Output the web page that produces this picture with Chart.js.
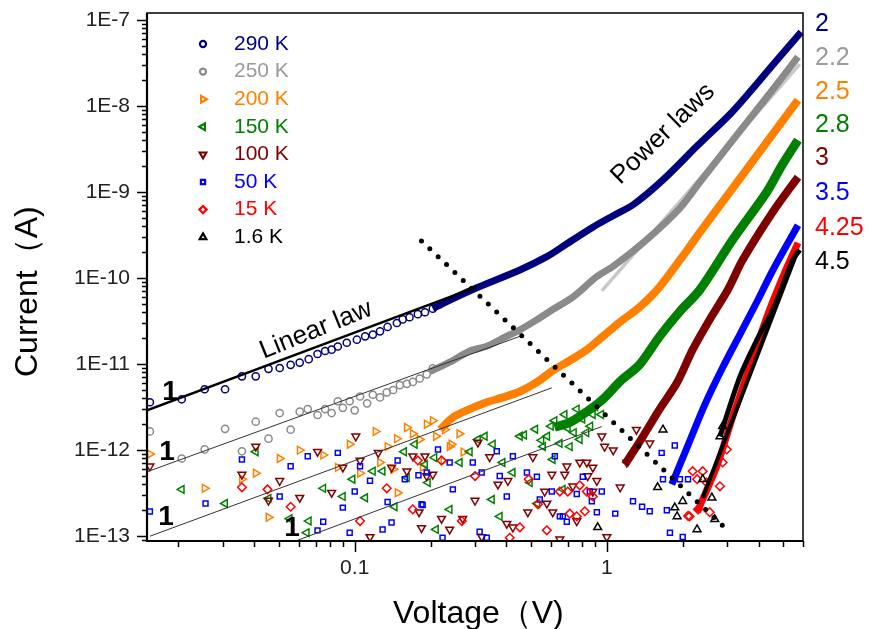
<!DOCTYPE html>
<html>
<head>
<meta charset="utf-8">
<script src="https://cdn.jsdelivr.net/npm/chart.js@4.4.1/dist/chart.umd.min.js"></script>
<style>
  html, body { margin: 0; padding: 0; background: #fff; }
</style>
</head>
<body>
<canvas id="ivChart" width="869" height="629"></canvas>
<script>
// ---- data: [voltage (V), current (A)] ----
const sparse290 = [[0.0154,3.6e-12],[0.0206,3.9e-12],[0.0254,5.1e-12],[0.0306,5.1e-12],[0.0357,7.2e-12],[0.0405,7.2e-12],[0.0455,8.8e-12],[0.0504,9.0e-12],[0.0557,9.8e-12],[0.0605,1.04e-11],[0.0657,1.14e-11],[0.0712,1.31e-11],[0.0763,1.42e-11],[0.081,1.47e-11],[0.0857,1.6e-11],[0.093,1.77e-11],[0.102,1.92e-11],[0.11,2.1e-11],[0.118,2.2e-11],[0.126,2.4e-11],[0.135,2.7e-11],[0.147,3.0e-11],[0.155,3.3e-11],[0.165,3.5e-11],[0.178,3.8e-11],[0.19,4.0e-11],[0.204,4.4e-11]];
const band290 = [[0.204,4.4e-11],[0.231,5.3e-11],[0.305,7.7e-11],[0.452,1.24e-10],[0.578,1.77e-10],[0.694,2.5e-10],[0.88,3.9e-10],[1.06,5.3e-10],[1.28,7.2e-10],[1.67,1.38e-9],[2.3,3.5e-9],[3.08,8.0e-9],[3.69,1.45e-8],[4.64,3.2e-8],[5.9,7.2e-8]];

const sparse250 = [[0.0154,1.65e-12],[0.0206,8.0e-13],[0.0254,1.02e-12],[0.0306,1.77e-12],[0.0357,9.7e-13],[0.0405,2.14e-12],[0.0455,1.36e-12],[0.0504,2.7e-12],[0.0557,1.73e-12],[0.0605,2.8e-12],[0.0651,3.0e-12],[0.0712,2.56e-12],[0.0763,3.0e-12],[0.081,2.7e-12],[0.0857,3.7e-12],[0.0897,3.1e-12],[0.0955,3.7e-12],[0.1,2.9e-12],[0.105,4.2e-12],[0.112,3.5e-12],[0.118,4.4e-12],[0.126,4.1e-12],[0.134,4.7e-12],[0.142,5.0e-12],[0.151,5.7e-12],[0.161,5.9e-12],[0.17,6.2e-12],[0.181,6.8e-12],[0.193,7.6e-12],[0.204,8.9e-12]];
const band250 = [[0.199,8.2e-12],[0.245,1.1e-11],[0.286,1.42e-11],[0.334,1.61e-11],[0.387,2.0e-11],[0.452,2.5e-11],[0.53,3.3e-11],[0.61,4.3e-11],[0.733,6.0e-11],[0.913,1.04e-10],[1.06,1.37e-10],[1.44,2.8e-10],[1.95,6.5e-10],[2.34,1.3e-9],[3.16,4.0e-9],[4.31,1.26e-8],[5.73,3.7e-8]];

const sparse200 = [[0.0154,9.0e-13],[0.0254,3.6e-13],[0.0357,4.6e-13],[0.0405,5.4e-13],[0.0455,1.66e-13],[0.0504,8.0e-13],[0.0605,1.0e-12],[0.075,8.8e-13],[0.0857,6.3e-13],[0.0955,1.17e-12],[0.105,5.4e-13],[0.121,1.65e-12],[0.126,7.2e-13],[0.135,1.1e-12],[0.142,6.0e-13],[0.148,3.2e-13],[0.147,1.36e-12],[0.161,1.83e-12],[0.17,1.55e-12],[0.181,1.33e-12],[0.186,6.3e-13],[0.193,2.0e-12],[0.204,2.2e-12],[0.21,1.45e-12],[0.228,1.73e-12],[0.242,1.17e-12],[0.26,1.55e-12],[0.238,1.1e-12],[0.27,9.5e-13],[0.225,7.5e-13]];
const band200 = [[0.218,1.73e-12],[0.245,2.4e-12],[0.286,3.0e-12],[0.334,3.6e-12],[0.387,4.1e-12],[0.452,4.8e-12],[0.53,6.2e-12],[0.61,8.4e-12],[0.713,1.1e-11],[0.833,1.47e-11],[0.965,2.1e-11],[1.13,3.1e-11],[1.35,4.6e-11],[1.62,7.9e-11],[2.08,2.1e-10],[2.34,3.4e-10],[3.16,1.11e-9],[4.31,3.8e-9],[5.73,1.17e-8]];

const sparse150 = [[0.0206,3.5e-13],[0.0306,2.4e-13],[0.0405,9.6e-13],[0.0455,2.75e-13],[0.0552,1.6e-13],[0.0645,1.1e-13],[0.0657,1.5e-13],[0.075,3.6e-13],[0.0897,2.9e-13],[0.098,4.6e-13],[0.11,2.8e-13],[0.118,5.7e-13],[0.129,5.7e-13],[0.144,2.2e-13],[0.157,9.6e-13],[0.161,4.8e-13],[0.173,1.17e-12],[0.19,6.8e-13],[0.195,4.2e-13],[0.207,8.2e-13],[0.21,1.2e-13],[0.238,2.05e-13],[0.261,7.2e-13],[0.286,9.6e-13],[0.308,1.33e-12],[0.328,1.45e-12],[0.35,2.67e-13],[0.353,1.17e-12],[0.376,1.7e-13],[0.386,7.2e-13],[0.423,5.5e-13],[0.452,1.45e-12],[0.495,4.2e-13],[0.53,2.4e-13],[0.558,1.1e-12],[0.61,7.8e-13],[0.669,3.5e-13],[0.713,1.1e-12],[0.781,1.33e-12],[0.55,1.3e-12],[0.6,1.9e-12],[0.65,1.2e-12],[0.68,2.6e-12],[0.74,1.6e-12],[0.8,2.3e-12],[0.86,1.9e-12],[0.9,3.2e-12],[0.95,2.6e-12],[0.76,3.0e-12],[0.47,1.5e-12],[0.52,1.75e-12],[0.58,1.45e-12],[0.62,2.2e-12],[0.7,1.8e-12],[0.83,1.6e-12],[0.88,2.6e-12]];
const band150 = [[0.62,1.85e-12],[0.713,2.1e-12],[0.833,2.8e-12],[0.965,3.9e-12],[1.13,6.3e-12],[1.35,9.9e-12],[1.62,2.1e-11],[1.95,4.1e-11],[2.34,7.3e-11],[3.16,2.8e-10],[4.31,1.0e-9],[4.96,2.06e-9],[5.73,4.0e-9]];

const sparse100 = [[0.0154,6.5e-13],[0.0357,5.2e-13],[0.0405,1.1e-12],[0.0455,2.6e-13],[0.0504,4.4e-13],[0.0605,2.8e-13],[0.0712,9.6e-13],[0.081,3.2e-13],[0.0897,6.3e-13],[0.101,1.45e-12],[0.105,7.6e-13],[0.115,9.8e-14],[0.124,9.3e-13],[0.14,6.3e-13],[0.161,5.7e-13],[0.17,8.5e-13],[0.18,1.9e-13],[0.19,8.5e-13],[0.193,5.0e-13],[0.204,5.2e-13],[0.184,1.25e-13],[0.221,1.6e-13],[0.238,1.2e-13],[0.268,1.6e-13],[0.308,1.23e-12],[0.3,2.6e-13],[0.319,9.8e-14],[0.343,8.3e-13],[0.37,4.0e-13],[0.405,4.4e-13],[0.401,1.4e-13],[0.424,1.27e-13],[0.486,1.9e-13],[0.509,8.3e-13],[0.567,3.3e-13],[0.578,2.4e-13],[0.605,5.2e-13],[0.61,1.9e-13],[0.651,9.2e-14],[0.681,5.2e-13],[0.694,6.5e-13],[0.733,3.8e-13],[0.781,7.2e-13],[0.833,7.2e-13],[0.84,5.0e-13],[0.88,6.3e-13],[0.913,4.4e-13],[0.955,1.45e-12],[0.98,1.1e-12],[0.88,3.3e-13],[0.76,1.5e-13],[1.13,3.7e-13],[1.0,9.8e-14],[1.31,1.73e-12],[1.48,1.2e-12],[1.2,7.2e-13],[1.06,1.0e-12]];
const band100 = [[1.18,6.8e-13],[1.39,1.44e-12],[1.62,3.0e-12],[1.9,6.1e-12],[2.19,1.47e-11],[2.56,3.3e-11],[3.02,7.3e-11],[3.46,1.63e-10],[4.56,5.9e-10],[5.73,1.49e-9]];

const sparse50 = [[0.0154,1.94e-13],[0.0256,2.4e-13],[0.0357,7.8e-13],[0.0504,2.9e-13],[0.0557,6.5e-13],[0.0651,8.5e-13],[0.0712,1.17e-13],[0.075,1.47e-13],[0.0857,9.3e-13],[0.0897,2.15e-13],[0.0955,1.1e-13],[0.1,3.3e-13],[0.105,6.5e-13],[0.115,4.4e-13],[0.129,1.2e-13],[0.135,2.5e-13],[0.14,1.44e-13],[0.148,7.6e-13],[0.158,4.6e-13],[0.179,5.1e-13],[0.186,2.3e-13],[0.214,1.02e-12],[0.238,7.2e-13],[0.193,5.5e-13],[0.245,3.5e-13],[0.184,2.35e-13],[0.294,7.2e-13],[0.319,5.5e-13],[0.366,9.7e-13],[0.376,5.0e-13],[0.401,2.9e-13],[0.424,8.5e-13],[0.482,5.5e-13],[0.528,4.9e-13],[0.542,2.67e-13],[0.605,3.3e-13],[0.622,8.5e-13],[0.669,1.7e-13],[0.694,1.47e-13],[0.76,3.1e-13],[0.803,4.9e-13],[0.872,2.55e-13],[0.913,1.9e-13],[0.955,3.3e-13],[0.313,1.13e-13],[0.334,9.6e-14],[0.223,9.6e-14],[1.27,2.55e-13],[1.38,2.2e-13],[1.48,1.95e-13],[1.65,9.3e-13],[1.73,2.0e-13],[1.78,1.1e-13],[1.86,1.13e-12],[2.0,9.8e-14],[1.67,4.6e-13],[1.95,4.6e-13],[2.1,4.6e-13],[1.08,1.83e-13],[0.856,3.3e-13],[0.651,1.7e-13]];
const band50 = [[1.81,4.0e-13],[2.08,1.07e-12],[2.45,3.4e-12],[2.89,9.3e-12],[3.37,2.2e-11],[3.94,5.3e-11],[4.56,1.24e-10],[5.73,4.1e-10]];

const sparse15 = [[0.0357,3.7e-13],[0.0451,3.5e-13],[0.0557,2.2e-13],[0.105,1.5e-13],[0.134,3.6e-13],[0.17,2.05e-13],[0.178,7.6e-13],[0.221,7.6e-13],[0.3,5.0e-13],[0.266,1.5e-13],[0.412,9.6e-14],[0.452,1.27e-13],[0.49,4.6e-13],[0.533,2.35e-13],[0.578,1.17e-13],[0.651,3.3e-13],[0.7,3.3e-13],[0.76,1.7e-13],[0.781,3.9e-13],[0.818,1.95e-13],[0.833,3.3e-13],[0.88,2.9e-13],[0.713,1.83e-13],[2.1,1.72e-13],[2.28,4.6e-13],[2.4,5.7e-13],[2.3,2.05e-13],[2.19,5.7e-13],[2.88,7.2e-13],[2.99,1.02e-12],[2.81,3.8e-13],[2.49,4.2e-13],[2.13,1.7e-13],[2.56,1.9e-13]];
const band15 = [[2.28,1.9e-13],[2.73,6.5e-13],[3.16,2.46e-12],[3.69,9.3e-12],[4.31,3.5e-11],[4.99,1.03e-10],[5.73,2.56e-10]];

const sparse16 = [[0.92,1.27e-13],[1.59,3.7e-13],[1.67,1.73e-12],[1.86,2.15e-13],[1.9,1.7e-13],[2.0,2.55e-13],[2.28,1.2e-13],[2.4,4.6e-13],[2.61,2.8e-13],[2.68,1.57e-13],[2.88,1.9e-12],[2.81,1.44e-12]];
const band16 = [[2.81,1.44e-12],[3.37,7.1e-12],[3.94,1.92e-11],[4.56,4.3e-11],[5.47,1.63e-10],[5.83,2.12e-10]];

// fitted laws
const linear290 = [[0.015,2.9e-12],[0.305,7.9e-11]];
const linear250 = [[0.015,5.6e-13],[0.452,2.1e-11]];
const linear200 = [[0.0154,1.0e-13],[0.605,5.3e-12]];
const linear150 = [[0.0589,8.9e-14],[0.955,1.88e-12]];
const power250 = [[0.955,7.1e-11],[5.83,3.05e-8]];
const power16 = [[2.4,2.8e-13],[5.73,2.12e-10]];
const crossover = [[0.184,2.7e-10],[3.08,1.1e-13]];

const seriesNames = ['290 K', '250 K', '200 K', '150 K', '100 K', '50 K', '15 K', '1.6 K'];
const exponents = ['2', '2.2', '2.5', '2.8', '3', '3.5', '4.25', '4.5'];
const xTickValues = [0.1, 1];
const xTickLabels = ['0.1', '1'];
const yTickValues = [1e-13, 1e-12, 1e-11, 1e-10, 1e-9, 1e-8, 1e-7];
const yTickLabels = ['1E-13', '1E-12', '1E-11', '1E-10', '1E-9', '1E-8', '1E-7'];

// ---- styling ----
const FONT = 'Liberation Sans, Arial, sans-serif';
const series = [
  { color: '#00007f', text: '#00007f', style: 'circle',   rot: 0,   r: 3.6, sparse: sparse290, band: band290, bw: 7 },
  { color: '#8a8a8a', text: '#9a9a9a', style: 'circle',   rot: 0,   r: 3.6, sparse: sparse250, band: band250, bw: 7 },
  { color: '#ff8000', text: '#ff8000', style: 'triangle', rot: 90,  r: 4.5, sparse: sparse200, band: band200, bw: 8 },
  { color: '#008000', text: '#008000', style: 'triangle', rot: -90, r: 4.5, sparse: sparse150, band: band150, bw: 9 },
  { color: '#7f0000', text: '#7f0000', style: 'triangle', rot: 180, r: 4.5, sparse: sparse100, band: band100, bw: 8 },
  { color: '#0000ff', text: '#0000ff', style: 'rect',     rot: 0,   r: 3.5, sparse: sparse50,  band: band50,  bw: 7 },
  { color: '#ff0000', text: '#ff0000', style: 'rectRot',  rot: 0,   r: 4.3, sparse: sparse15,  band: band15,  bw: 7 },
  { color: '#000000', text: '#000000', style: 'triangle', rot: 0,   r: 4.5, sparse: sparse16,  band: band16,  bw: 5 },
];

const pts = a => a.map(([x, y]) => ({ x, y }));
const lineSet = (data, color, width, order, extra) => Object.assign({
  data: pts(data), showLine: true, pointRadius: 0, borderColor: color,
  borderWidth: width, fill: false, order, borderJoinStyle: 'round', borderCapStyle: 'butt'
}, extra || {});

const datasets = [];
series.forEach((s, i) => {
  const base = 100 - i * 10;
  datasets.push(lineSet(s.band, s.color, s.bw, base, { tension: 0.3 }));
  datasets.push({
    data: pts(s.sparse), showLine: false, order: base - 1,
    pointStyle: s.style, pointRotation: s.rot, pointRadius: s.r,
    pointBorderColor: s.color, pointBackgroundColor: 'rgba(0,0,0,0)', pointBorderWidth: 1.5
  });
});
datasets.push(lineSet(power250, '#c8c8c8', 3.5, 91));
datasets.push(lineSet(linear290, '#000', 2.5, 5));
datasets.push(lineSet(linear250, '#333', 1, 5));
datasets.push(lineSet(linear200, '#333', 1, 5));
datasets.push(lineSet(linear150, '#333', 1, 5));
datasets.push(lineSet(power16, '#000', 4, 4));
datasets.push(lineSet(crossover, '#000', 5, 3, { borderDash: [0, 11.5], borderCapStyle: 'round' }));

// frame, tick marks, legend and annotations
const decorations = {
  id: 'decorations',
  afterDatasetsDraw(chart) {
    const { ctx, chartArea: a, scales: { x, y } } = chart;
    ctx.save();
    // tick marks
    ctx.strokeStyle = '#000';
    ctx.lineWidth = 1.5;
    ctx.beginPath();
    for (let e = -2; e <= 0; e++) {
      for (let m = 1; m <= 9; m++) {
        const v = m * Math.pow(10, e);
        if (v < x.min || v > x.max) continue;
        const px = Math.round(x.getPixelForValue(v)) + 0.5;
        ctx.moveTo(px, a.bottom);
        ctx.lineTo(px, a.bottom + (m === 1 ? 11 : 6));
      }
    }
    for (let e = -14; e <= -7; e++) {
      for (let m = 1; m <= 9; m++) {
        const v = m * Math.pow(10, e);
        if (v < y.min || v > y.max) continue;
        const py = Math.round(y.getPixelForValue(v)) + 0.5;
        ctx.moveTo(a.left, py);
        ctx.lineTo(a.left - (m === 1 ? 10 : 5), py);
      }
    }
    ctx.stroke();
    // frame
    ctx.lineWidth = 1.5;
    ctx.strokeRect(a.left, a.top, a.right - a.left, a.bottom - a.top);
    ctx.lineWidth = 2.2;
    ctx.beginPath();
    ctx.moveTo(a.left, a.top); ctx.lineTo(a.left, a.bottom); ctx.lineTo(a.right, a.bottom);
    ctx.stroke();

    // legend
    series.forEach((s, i) => {
      const ly = 44 + i * 27.6;
      ctx.strokeStyle = s.color;
      ctx.fillStyle = 'rgba(0,0,0,0)';
      Chart.helpers.drawPoint(ctx, { pointStyle: s.style, radius: s.r * 0.85, rotation: s.rot, borderWidth: 1.5 }, 203, ly);
      ctx.fillStyle = s.text;
      ctx.font = '21px ' + FONT;
      ctx.textAlign = 'left';
      ctx.textBaseline = 'middle';
      ctx.fillText(seriesNames[i], 234, ly);
    });

    // exponents at right
    const ey = [24, 58, 92, 125, 158, 193, 228, 262];
    ctx.font = '25px ' + FONT;
    exponents.forEach((t, i) => {
      ctx.fillStyle = series[i].text;
      ctx.fillText(t, a.right + 12, ey[i]);
    });

    // text annotations
    ctx.fillStyle = '#000';
    const rotText = (t, cx, cy, ang, font, align, base) => {
      ctx.save();
      ctx.translate(cx, cy);
      ctx.rotate(ang * Math.PI / 180);
      ctx.font = font;
      ctx.textAlign = align || 'center';
      ctx.textBaseline = base || 'middle';
      ctx.fillText(t, 0, 0);
      ctx.restore();
    };
    rotText('Linear law', 316, 330, -22, '26px ' + FONT);
    rotText('Power laws', 663, 134, -44, '26px ' + FONT);
    ctx.save();
    ctx.beginPath();
    ctx.rect(a.left, a.top, a.right - a.left, a.bottom - a.top);
    ctx.clip();
    [[170, 392], [167, 452], [166, 517], [292, 528]].forEach(([cx, cy]) => rotText('1', cx, cy, 0, 'bold 28px ' + FONT));
    ctx.restore();

    // axis titles
    rotText('Voltage（V)', 393, 623, 0, '32px ' + FONT, 'left', 'alphabetic');
    rotText('Current（A)', 37, 377, -90, '32px ' + FONT, 'left', 'alphabetic');
    ctx.restore();
  }
};

new Chart(document.getElementById('ivChart'), {
  type: 'scatter',
  data: { datasets },
  options: {
    responsive: false,
    devicePixelRatio: 1,
    animation: false,
    events: [],
    layout: { padding: { top: 13, right: 66, left: 0, bottom: 0 } },
    plugins: { legend: { display: false }, tooltip: { enabled: false } },
    scales: {
      x: {
        type: 'logarithmic', min: 0.015, max: 6,
        grid: { display: false, drawTicks: false },
        border: { display: false },
        afterBuildTicks: s => { s.ticks = xTickValues.map(v => ({ value: v })); },
        afterFit: s => { s.height = 88; s.paddingLeft = 0; s.paddingRight = 0; },
        ticks: { autoSkip: false, maxRotation: 0, padding: 15, color: '#222',
          font: { family: FONT, size: 21 }, callback: (v, i) => xTickLabels[i] }
      },
      y: {
        type: 'logarithmic', min: 8.8e-14, max: 1.2e-7,
        grid: { display: false, drawTicks: false },
        border: { display: false },
        afterBuildTicks: s => { s.ticks = yTickValues.map(v => ({ value: v })); },
        afterFit: s => { s.width = 147; s.paddingTop = 0; s.paddingBottom = 0; },
        ticks: { autoSkip: false, padding: 17, color: '#222',
          font: { family: FONT, size: 21 }, callback: (v, i) => yTickLabels[i] }
      }
    }
  },
  plugins: [decorations]
});
</script>
</body>
</html>
